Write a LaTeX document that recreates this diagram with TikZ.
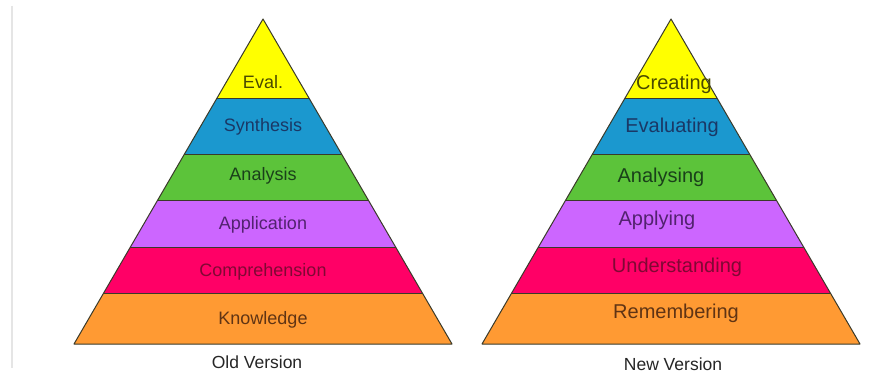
\documentclass[tikz,border=0pt]{standalone}
\usepackage{fontspec}
\setmainfont{Liberation Sans}
\definecolor{cyel}{HTML}{FFFF00}
\definecolor{cblu}{HTML}{1B98CF}
\definecolor{cgrn}{HTML}{5CC33A}
\definecolor{cpur}{HTML}{CC66FF}
\definecolor{cpnk}{HTML}{FF0066}
\definecolor{corg}{HTML}{FF9A33}
\definecolor{tyel}{HTML}{4A4A00}
\definecolor{tblu}{HTML}{1A3866}
\definecolor{tgrn}{HTML}{1A401A}
\definecolor{tpur}{HTML}{52226F}
\definecolor{tpnk}{HTML}{800834}
\definecolor{torg}{HTML}{603414}
\definecolor{edge}{HTML}{3A3A2A}
\tikzset{
  oldlbl/.style={font=\fontsize{18}{18}\selectfont, inner sep=0pt},
  newlbl/.style={font=\fontsize{20}{20}\selectfont, inner sep=0pt},
  caption/.style={font=\fontsize{17.5}{17.5}\selectfont, inner sep=0pt, text=black!85},
  sep/.style={draw=edge, line width=1pt},
  outline/.style={draw=edge, line width=1pt, line join=round},
}
\begin{document}
\begin{tikzpicture}[x=1pt,y=-1pt]
\useasboundingbox (0,0) rectangle (888,377);
\fill[white] (0,0) rectangle (888,377);
\draw[line width=2pt, draw=black!10] (12,6) -- (12,368);

% ---------- left pyramid
\begin{scope}
\clip (263,19) -- (452,344) -- (74,344) -- cycle;
\fill[cyel] (60,0) rectangle (470,99);
\fill[cblu] (60,99) rectangle (470,154);
\fill[cgrn] (60,154) rectangle (470,200);
\fill[cpur] (60,200) rectangle (470,247);
\fill[cpnk] (60,247) rectangle (470,293);
\fill[corg] (60,293) rectangle (470,345);
\foreach \yy in {99,154,200,247,293} \draw[sep] (60,\yy) -- (470,\yy);
\end{scope}
\draw[outline] (263,19) -- (452,344) -- (74,344) -- cycle;

\node[oldlbl, text=tyel] (l1) at (263,82) {Eval.};
\node[oldlbl, text=tblu] (l2) at (263,127) {Synthesis};
\node[oldlbl, text=tgrn] (l3) at (263,176) {Analysis};
\node[oldlbl, text=tpur] (l4) at (263,225) {Application};
\node[oldlbl, text=tpnk] (l5) at (263,272) {Comprehension};
\node[oldlbl, text=torg] (l6) at (263,320) {Knowledge};
\node[caption] (oldcap) at (257,362) {Old Version};

% ---------- right pyramid
\begin{scope}
\clip (671,19) -- (860,344) -- (482,344) -- cycle;
\fill[cyel] (470,0) rectangle (880,99);
\fill[cblu] (470,99) rectangle (880,154);
\fill[cgrn] (470,154) rectangle (880,200);
\fill[cpur] (470,200) rectangle (880,247);
\fill[cpnk] (470,247) rectangle (880,293);
\fill[corg] (470,293) rectangle (880,345);
\foreach \yy in {99,154,200,247,293} \draw[sep] (470,\yy) -- (880,\yy);
\end{scope}
\draw[outline] (671,19) -- (860,344) -- (482,344) -- cycle;

\node[newlbl, text=tyel] (r1) at (674,84) {Creating};
\node[newlbl, text=tblu] (r2) at (672,127) {Evaluating};
\node[newlbl, text=tgrn] (r3) at (661,177) {Analysing};
\node[newlbl, text=tpur] (r4) at (657,220) {Applying};
\node[newlbl, text=tpnk] (r5) at (677,267) {Understanding};
\node[newlbl, text=torg] (r6) at (676,313) {Remembering};
\node[caption] (newcap) at (673,364) {New Version};
\end{tikzpicture}
\end{document}
